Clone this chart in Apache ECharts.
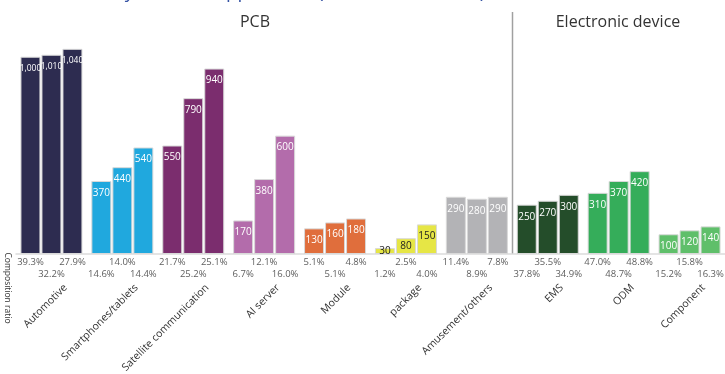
<!DOCTYPE html>
<html>
<head>
<meta charset="utf-8">
<script src="https://cdn.jsdelivr.net/npm/echarts@6/dist/echarts.min.js"></script>
<style>
  html, body { margin: 0; padding: 0; background: #fff; }
  #chart { width: 725px; height: 374px; }
</style>
</head>
<body>
<div id="chart"></div>
<script>
const categories = ['Automotive', 'Smartphones/tablets', 'Satellite communication', 'AI server', 'Module',
  'package', 'Amusement/others', 'EMS', 'ODM', 'Component'];
const amount1 = [1000, 370, 550, 170, 130, 30, 290, 250, 310, 100];
const amount2 = [1010, 440, 790, 380, 160, 80, 280, 270, 370, 120];
const amount3 = [1040, 540, 940, 600, 180, 150, 290, 300, 420, 140];
const ratio1 = [39.3, 14.6, 21.7, 6.7, 5.1, 1.2, 11.4, 37.8, 47.0, 15.2];
const ratio2 = [32.2, 14.0, 25.2, 12.1, 5.1, 2.5, 8.9, 35.5, 48.7, 15.8];
const ratio3 = [27.9, 14.4, 25.1, 16.0, 4.8, 4.0, 7.8, 34.9, 48.8, 16.3];
const colors = ['#2d2c50', '#20a8de', '#7b2d6e', '#b36cab', '#e06e3c',
  '#e6e645', '#b3b3b6', '#244d2a', '#35ad5a', '#5fbf6a'];

const amounts = [amount1, amount2, amount3];
const ratios = [ratio1, ratio2, ratio3];
const font = 'Open Sans';

const chart = echarts.init(document.getElementById('chart'));

const barSeries = amounts.map((arr, s) => ({
  name: 'amount' + (s + 1),
  type: 'bar',
  xAxisIndex: 0,
  yAxisIndex: 0,
  barWidth: 20,
  barGap: '5%',
  data: arr.map((v, i) => ({
    value: v,
    itemStyle: { color: colors[i] },
    label: {
      position: v < 100 ? 'inside' : 'insideTop',
      color: i === 5 ? '#222' : '#fff',
      fontSize: v >= 1000 ? 8.5 : 10
    }
  })),
  itemStyle: { borderColor: '#d9d9d9', borderWidth: 1 },
  label: {
    show: true,
    distance: 7,
    fontFamily: font,
    formatter: p => p.value.toLocaleString('en-US')
  },
  animation: false
}));

// composition ratios, staggered on two rows below the bars
const ratioSeries = ratios.map((arr, s) => ({
  name: 'ratio' + (s + 1),
  type: 'scatter',
  xAxisIndex: 1,
  yAxisIndex: 1,
  symbolSize: 0,
  data: arr.map((v, i) => [i, ((i % 2 === 0) === (s !== 1)) ? 1 : 2]),
  label: {
    show: true,
    position: 'inside',
    offset: [(s - 1) * 21, 0],
    color: '#333',
    fontSize: 9.5,
    fontFamily: font,
    formatter: p => arr[p.dataIndex].toFixed(1) + '%'
  },
  animation: false
}));

chart.setOption({
  textStyle: { fontFamily: font },
  grid: [
    { left: 16, width: 709, top: 37, bottom: 120, outerBoundsMode: 'none' },
    { left: 16, width: 709, top: 250, height: 36, outerBoundsMode: 'none' },
    { left: 30, width: 709, top: 37, bottom: 120, outerBoundsMode: 'none' }
  ],
  xAxis: [
    {
      type: 'category', gridIndex: 0, data: categories,
      axisLine: { lineStyle: { color: '#dcdcdc', width: 1.5 } },
      axisTick: { show: false }, axisLabel: { show: false }
    },
    {
      type: 'category', gridIndex: 1, data: categories, show: false
    },
    {
      type: 'category', gridIndex: 2, data: categories,
      axisLine: { show: false }, axisTick: { show: false },
      axisLabel: { rotate: 45, interval: 0, margin: 32, fontSize: 10.5, color: '#333', fontFamily: font }
    }
  ],
  yAxis: [
    { type: 'value', gridIndex: 0, min: 0, max: 1100, show: false, splitLine: { show: false } },
    { type: 'value', gridIndex: 1, min: 0, max: 3, inverse: true, show: false, splitLine: { show: false } },
    { type: 'value', gridIndex: 2, min: 0, max: 1, show: false, splitLine: { show: false } }
  ],
  graphic: [
    {
      type: 'text', left: 33, top: -17,
      style: { text: 'Forecast by Product Application (Amount and ratio)', fill: '#3452a4', fontSize: 19, fontFamily: font }
    },
    {
      type: 'text', x: 255, y: 22,
      style: { text: 'PCB', fill: '#333', fontSize: 16, fontFamily: font, align: 'center', verticalAlign: 'middle' }
    },
    {
      type: 'text', x: 618, y: 22,
      style: { text: 'Electronic device', fill: '#333', fontSize: 16, fontFamily: font, align: 'center', verticalAlign: 'middle' }
    },
    {
      type: 'line',
      shape: { x1: 512.5, y1: 12, x2: 512.5, y2: 254 },
      style: { stroke: '#a0a0a0', lineWidth: 1.5 }
    },
    {
      type: 'text', x: 7, y: 288, rotation: -Math.PI / 2,
      style: { text: 'Composition ratio', fill: '#333', fontSize: 8.5, fontFamily: font, align: 'center', verticalAlign: 'middle' }
    }
  ],
  series: barSeries.concat(ratioSeries)
});
</script>
</body>
</html>
